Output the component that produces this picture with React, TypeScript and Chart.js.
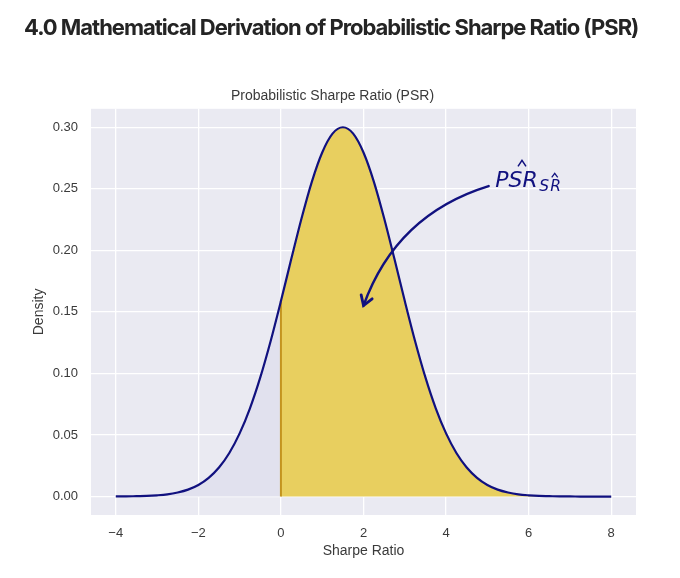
import React, { useEffect, useLayoutEffect, useRef } from "react";
import { Chart, registerables } from "chart.js";

Chart.register(...registerables);

const HEADING = "4.0 Mathematical Derivation of Probabilistic Sharpe Ratio (PSR)";
const CHART_TITLE = "Probabilistic Sharpe Ratio (PSR)";
const X_LABEL = "Sharpe Ratio";
const Y_LABEL = "Density";

const sharpeRatios = [
  -4, -3.75, -3.5, -3.25, -3, -2.75, -2.5, -2.25, -2, -1.75, -1.5, -1.25, -1,
  -0.75, -0.5, -0.25, 0, 0.25, 0.5, 0.75, 1, 1.25, 1.5, 1.75, 2, 2.25, 2.5,
  2.75, 3, 3.25, 3.5, 3.75, 4, 4.25, 4.5, 4.75, 5, 5.25, 5.5, 5.75, 6, 6.25,
  6.5, 6.75, 7, 7.25, 7.5, 7.75, 8,
];
const densities = [
  0.0001, 0.0001, 0.0003, 0.0005, 0.001, 0.0018, 0.0033, 0.0056, 0.0094,
  0.0152, 0.0236, 0.0354, 0.0513, 0.0717, 0.0968, 0.1262, 0.1588, 0.1929,
  0.2261, 0.2559, 0.2795, 0.2948, 0.3, 0.2948, 0.2795, 0.2559, 0.2261, 0.1929,
  0.1588, 0.1262, 0.0968, 0.0717, 0.0513, 0.0354, 0.0236, 0.0152, 0.0094,
  0.0056, 0.0033, 0.0018, 0.001, 0.0005, 0.0003, 0.0001, 0.0001, 0, 0, 0, 0,
];
const benchmarkSR = 0;
const xTicks = [-4, -2, 0, 2, 4, 6, 8];
const yTicks = [0, 0.05, 0.1, 0.15, 0.2, 0.25, 0.3];
const xRange = [-4.6, 8.6];
const yRange = [-0.015, 0.315];

// annotation anchors in data units
const annotationAt = { x: 5.19, y: 0.2516 };
const arrowFrom = { x: 5.03, y: 0.2522 };
const arrowTo = { x: 2.0, y: 0.1551 };

const NAVY = "#11117f";
const TEXT = "#3a3a3a";
const AXIS_FONT = "'Liberation Sans', Arial, sans-serif";

export default function App() {
  const canvasRef = useRef<HTMLCanvasElement>(null);
  const headRef = useRef<HTMLDivElement>(null);

  useLayoutEffect(() => {
    const el = headRef.current;
    if (!el) return;
    el.style.letterSpacing = "0px";
    const w = el.getBoundingClientRect().width;
    el.style.letterSpacing = (614 - w) / HEADING.length + "px";
  }, []);

  useEffect(() => {
    const canvas = canvasRef.current;
    if (!canvas) return;
    const all = sharpeRatios.map((x, i) => ({ x, y: densities[i] }));
    const left = all.filter((p) => p.x <= benchmarkSR);
    const right = all.filter((p) => p.x >= benchmarkSR);
    const bIdx = sharpeRatios.indexOf(benchmarkSR);
    const benchLine = [
      { x: benchmarkSR, y: 0 },
      { x: benchmarkSR, y: densities[bIdx] },
    ];

    const bgPlugin = {
      id: "plotBg",
      beforeDraw(chart: any) {
        const { ctx, chartArea: a } = chart;
        ctx.save();
        ctx.fillStyle = "#eaeaf2";
        ctx.fillRect(a.left, a.top, a.right - a.left, a.bottom - a.top);
        ctx.restore();
      },
    };

    const annotPlugin = {
      id: "psrAnnot",
      afterDatasetsDraw(chart: any) {
        const { ctx, scales } = chart;
        const xs = scales.x, ys = scales.y;
        const sx = xs.getPixelForValue(arrowFrom.x), sy = ys.getPixelForValue(arrowFrom.y);
        const ex = xs.getPixelForValue(arrowTo.x), ey = ys.getPixelForValue(arrowTo.y);
        // arc3 style connection, rad=0.25 (y-up convention)
        const rad = 0.25;
        const mx = (sx + ex) / 2, my = (sy + ey) / 2;
        const dx = ex - sx, dyUp = -(ey - sy);
        const cx = mx + rad * dyUp;
        const cy = my + rad * dx;
        ctx.save();
        ctx.strokeStyle = NAVY;
        ctx.fillStyle = NAVY;
        ctx.lineWidth = 2.5;
        ctx.lineCap = "round";
        ctx.lineJoin = "miter";
        ctx.beginPath();
        ctx.moveTo(sx, sy);
        ctx.quadraticCurveTo(cx, cy, ex, ey);
        ctx.stroke();
        // chevron head
        const tx = ex - cx, ty = ey - cy;
        const tl = Math.hypot(tx, ty);
        const ux = tx / tl, uy = ty / tl;
        const ang = (32 * Math.PI) / 180;
        const hl = 11;
        const rot = (a: number) => [
          -(ux * Math.cos(a) - uy * Math.sin(a)),
          -(ux * Math.sin(a) + uy * Math.cos(a)),
        ];
        const [ax, ay] = rot(ang);
        const [bx, by] = rot(-ang);
        ctx.lineWidth = 2.8;
        ctx.beginPath();
        ctx.moveTo(ex + ax * hl, ey + ay * hl);
        ctx.lineTo(ex, ey);
        ctx.lineTo(ex + bx * hl, ey + by * hl);
        ctx.stroke();

        // text  PSR^ _ SR^
        const px = xs.getPixelForValue(annotationAt.x);
        const py = ys.getPixelForValue(annotationAt.y);
        ctx.font = "oblique 22px 'DejaVu Sans'";
        ctx.textBaseline = "alphabetic";
        ctx.textAlign = "left";
        ctx.fillText("PSR", px, py);
        const w = ctx.measureText("PSR").width;
        ctx.lineWidth = 1.5;
        ctx.lineCap = "butt";
        const hx = px + w * 0.63;
        ctx.beginPath();
        ctx.moveTo(hx - 4, py - 20.5);
        ctx.lineTo(hx, py - 26.5);
        ctx.lineTo(hx + 4, py - 20.5);
        ctx.stroke();
        const subX = px + w + 1.5;
        const subY = py + 4;
        ctx.font = "oblique 15.5px 'DejaVu Sans'";
        ctx.fillText("S", subX, subY);
        ctx.fillText("R", subX + 11, subY);
        const shx = subX + 15.5;
        ctx.lineWidth = 1.3;
        ctx.beginPath();
        ctx.moveTo(shx - 3, subY - 13.5);
        ctx.lineTo(shx, subY - 17.5);
        ctx.lineTo(shx + 3, subY - 13.5);
        ctx.stroke();
        ctx.restore();
      },
    };

    const tickFont = { family: AXIS_FONT, size: 13 };
    const titleFont = { family: AXIS_FONT, size: 14, weight: "normal" as const };

    const chart = new Chart(canvas, {
      type: "line",
      data: {
        datasets: [
          {
            data: all,
            borderColor: NAVY,
            borderWidth: 2.2,
            pointRadius: 0,
            fill: false,
            cubicInterpolationMode: "monotone",
          },
          {
            data: benchLine,
            borderColor: "#c3941f",
            borderWidth: 2,
            pointRadius: 0,
            fill: false,
          },
          {
            data: right,
            borderWidth: 0,
            borderColor: "rgba(0,0,0,0)",
            backgroundColor: "#e8cf5f",
            pointRadius: 0,
            fill: "origin",
            cubicInterpolationMode: "monotone",
          },
          {
            data: left,
            borderWidth: 0,
            borderColor: "rgba(0,0,0,0)",
            backgroundColor: "#e1e1ee",
            pointRadius: 0,
            fill: "origin",
            cubicInterpolationMode: "monotone",
          },
        ],
      },
      options: {
        animation: false,
        responsive: false,
        maintainAspectRatio: false,
        events: [],
        layout: { padding: { left: 29, top: 88, right: 44, bottom: 18 } },
        plugins: {
          legend: { display: false },
          tooltip: { enabled: false },
          title: {
            display: true,
            text: CHART_TITLE,
            color: TEXT,
            font: titleFont,
            padding: { top: 0, bottom: 4 },
          },
        },
        scales: {
          x: {
            type: "linear",
            min: xRange[0],
            max: xRange[1],
            afterBuildTicks: (s: any) => {
              s.ticks = xTicks.map((v) => ({ value: v }));
            },
            afterFit: (s: any) => {
              s.height = 45;
            },
            grid: { color: "#ffffff", lineWidth: 1.3, drawTicks: false },
            border: { display: false },
            ticks: {
              padding: 11,
              color: TEXT,
              font: tickFont,
              maxRotation: 0,
              callback: (v: any) => (Number(v) < 0 ? "\u2212" + Math.abs(Number(v)) : String(v)),
            },
            title: {
              display: true,
              text: X_LABEL,
              color: TEXT,
              font: titleFont,
              padding: { top: 2, bottom: 0 },
            },
          },
          y: {
            type: "linear",
            min: yRange[0],
            max: yRange[1],
            afterBuildTicks: (s: any) => {
              s.ticks = yTicks.map((v) => ({ value: v }));
            },
            afterFit: (s: any) => {
              s.width = 62;
            },
            grid: { color: "#ffffff", lineWidth: 1.3, drawTicks: false },
            border: { display: false },
            ticks: {
              padding: 13,
              color: TEXT,
              font: tickFont,
              callback: (v: any) => Number(v).toFixed(2),
            },
            title: {
              display: true,
              text: Y_LABEL,
              color: TEXT,
              font: titleFont,
              padding: { top: 2, bottom: 0 },
            },
          },
        },
      },
      plugins: [bgPlugin, annotPlugin],
    } as any);

    return () => chart.destroy();
  }, []);

  return (
    <div
      style={{
        position: "absolute",
        left: 0,
        top: 0,
        width: 680,
        height: 578,
        background: "#ffffff",
        overflow: "hidden",
      }}
    >
      <canvas
        ref={canvasRef}
        width={680}
        height={578}
        style={{ position: "absolute", left: 0, top: 0, width: 680, height: 578 }}
      />
      <div
        ref={headRef}
        style={{
          position: "absolute",
          left: 24,
          top: 16,
          fontFamily: "Inter, Roboto, 'Liberation Sans', sans-serif",
          fontWeight: 700,
          fontSize: 22,
          lineHeight: "22px",
          color: "#242424",
          whiteSpace: "nowrap",
          display: "inline-block",
        }}
      >
        {HEADING}
      </div>
    </div>
  );
}
